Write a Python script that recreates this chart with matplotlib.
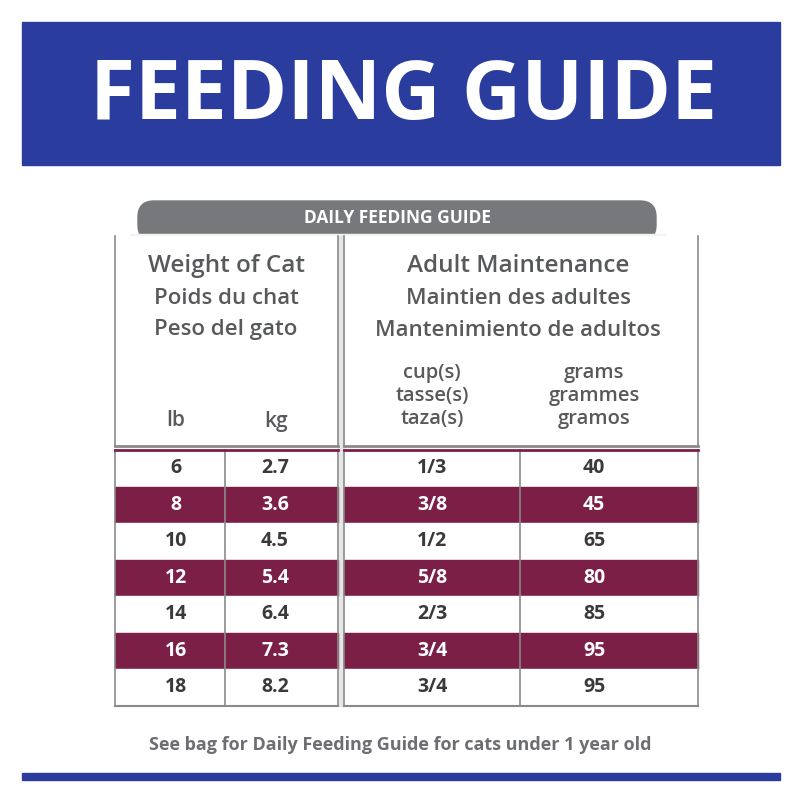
import matplotlib.pyplot as plt
from matplotlib.patches import Rectangle, FancyBboxPatch

lb = ["6", "8", "10", "12", "14", "16", "18"]
kg = ["2.7", "3.6", "4.5", "5.4", "6.4", "7.3", "8.2"]
cups = ["1/3", "3/8", "1/2", "5/8", "2/3", "3/4", "3/4"]
grams = ["40", "45", "65", "80", "85", "95", "95"]

BLUE = "#2a3d9f"
MAROON = "#7c1f47"
GRAY = "#58595b"
TAB = "#77787b"
LINE = "#8a8a8a"

fig = plt.figure(figsize=(8, 8), dpi=100)
ax = fig.add_axes([0, 0, 1, 1])
ax.set_xlim(0, 800)
ax.set_ylim(800, 0)
ax.axis("off")
F = "Open Sans"

ax.add_patch(Rectangle((22, 22), 758, 143, color=BLUE))
ax.text(403, 97, "FEEDING GUIDE", color="white", fontsize=59, fontweight="bold",
        ha="center", va="center", family=F)

ax.add_patch(FancyBboxPatch((138, 201), 518, 40, boxstyle="round,pad=0,rounding_size=16", color=TAB))
ax.add_patch(Rectangle((130, 234), 535, 12, color="#f4f4f4"))
ax.text(397, 218, "DAILY FEEDING GUIDE", color="white", fontsize=12.5, fontweight="bold",
        ha="center", va="center", family=F)

for x0, x1 in [(115, 338), (344, 698)]:
    ax.add_patch(Rectangle((x0, 236), x1 - x0, 208, facecolor="white", edgecolor="none"))
    ax.plot([x0, x0], [236, 446], color=LINE, lw=1.2)
    ax.plot([x1, x1], [236, 446], color=LINE, lw=1.2)
    ax.plot([x0, x1], [446, 446], color=LINE, lw=2)
ax.add_patch(Rectangle((338, 236), 6, 470, color="#e6e6e6"))

W = "semibold"
ax.text(226, 266, "Weight of Cat", color=GRAY, fontsize=17.5, fontweight=W, ha="center", va="center", family=F)
ax.text(226, 298, "Poids du chat", color=GRAY, fontsize=16, fontweight=W, ha="center", va="center", family=F)
ax.text(226, 330, "Peso del gato", color=GRAY, fontsize=16, fontweight=W, ha="center", va="center", family=F)
ax.text(176, 421, "lb", color=GRAY, fontsize=15, fontweight=W, ha="center", va="center", family=F)
ax.text(276, 421, "kg", color=GRAY, fontsize=15, fontweight=W, ha="center", va="center", family=F)
ax.text(518, 266, "Adult Maintenance", color=GRAY, fontsize=17.5, fontweight=W, ha="center", va="center", family=F)
ax.text(518, 298, "Maintien des adultes", color=GRAY, fontsize=16, fontweight=W, ha="center", va="center", family=F)
ax.text(518, 330, "Mantenimiento de adultos", color=GRAY, fontsize=16, fontweight=W, ha="center", va="center", family=F)
for i, t in enumerate(["cup(s)", "tasse(s)", "taza(s)"]):
    ax.text(432, 373 + i * 23, t, color=GRAY, fontsize=14.5, fontweight=W, ha="center", va="center", family=F)
for i, t in enumerate(["grams", "grammes", "gramos"]):
    ax.text(594, 373 + i * 23, t, color=GRAY, fontsize=14.5, fontweight=W, ha="center", va="center", family=F)

y0, h = 450, 36.5
for i in range(len(lb)):
    y = y0 + i * h
    maroon = i % 2 == 1
    fc = MAROON if maroon else "white"
    tc = "white" if maroon else "#3a3a3a"
    ax.add_patch(Rectangle((115, y), 223, h, color=fc))
    ax.add_patch(Rectangle((344, y), 354, h, color=fc))
    cy = y + h / 2
    ax.text(176, cy, lb[i], color=tc, fontsize=14, fontweight="bold", ha="center", va="center", family=F)
    ax.text(275, cy, kg[i], color=tc, fontsize=14, fontweight="bold", ha="center", va="center", family=F)
    ax.text(432, cy, cups[i], color=tc, fontsize=14, fontweight="bold", ha="center", va="center", family=F)
    ax.text(594, cy, grams[i], color=tc, fontsize=14, fontweight="bold", ha="center", va="center", family=F)
yb = y0 + len(lb) * h
ax.plot([225, 225], [y0, yb], color=LINE, lw=1.2)
ax.plot([520, 520], [y0, yb], color=LINE, lw=1.2)
for x0, x1 in [(115, 338), (344, 698)]:
    ax.plot([x0, x0], [y0, yb], color=LINE, lw=1.2)
    ax.plot([x1, x1], [y0, yb], color=LINE, lw=1.2)
    ax.plot([x0, x1], [yb, yb], color=LINE, lw=1.5)
ax.plot([115, 338], [y0, y0], color=MAROON, lw=2)
ax.plot([344, 698], [y0, y0], color=MAROON, lw=2)

ax.text(400, 745, "See bag for Daily Feeding Guide for cats under 1 year old", color="#6d6e71",
        fontsize=13, fontweight="bold", ha="center", va="center", family=F)
ax.add_patch(Rectangle((22, 773), 758, 7, color=BLUE))

fig.savefig("out.png", dpi=100)
